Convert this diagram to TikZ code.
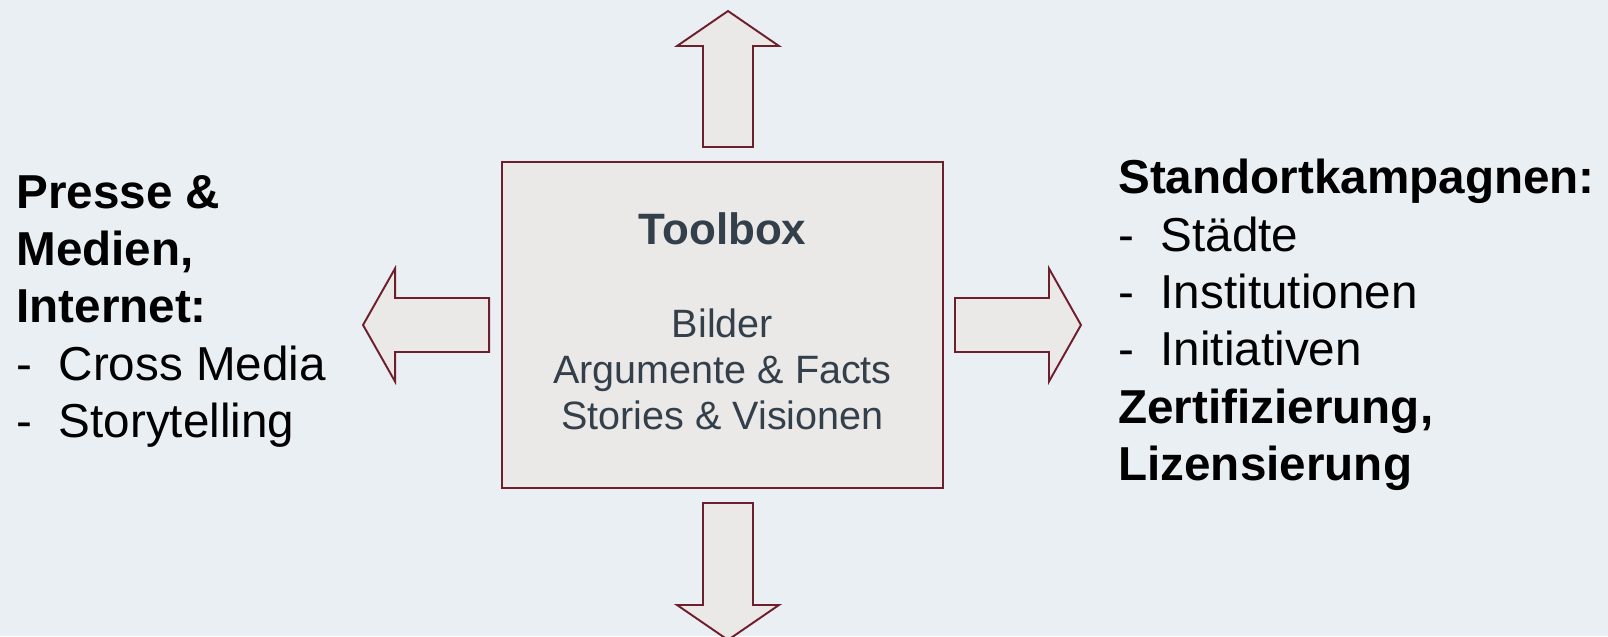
\documentclass[tikz,border=0pt]{standalone}
\usepackage{fontspec}
\setmainfont{Liberation Sans}
\definecolor{tbBack}{HTML}{EAEFF3}
\definecolor{tbFill}{HTML}{EBE9E7}
\definecolor{tbLine}{HTML}{6E1F2C}
\definecolor{tbText}{HTML}{333F4A}
\newcommand{\tbdash}{\makebox[0.89em][l]{-}}
\tikzset{
  toolbox/.style={draw=tbLine, fill=tbFill, line width=1.1pt,
              minimum width=8.82cm, minimum height=6.52cm, inner sep=0pt},
  fatarrow/.style={draw=tbLine, fill=tbFill, line width=1.1pt},
  title/.style={font=\fontsize{25}{30}\selectfont\bfseries, text=tbText, inner sep=0pt},
  tools/.style={font=\fontsize{22.5}{26.2}\selectfont, text=tbText, align=center, inner sep=0pt},
  side/.style={font=\fontsize{27.1}{32.6}\selectfont, align=left, inner sep=0pt, anchor=north west},
}

\begin{document}
\begin{tikzpicture}
  \fill[tbBack] (0,0) rectangle (32.16,12.72);
  \useasboundingbox (0,0) rectangle (32.16,12.72);
  % centre box
  \node[toolbox] (box) at (14.45,6.22) {};
  \node[title,anchor=base] (ttl) at (14.45,7.83) {Toolbox};
  \node[tools,anchor=north] (tools) at (14.45,6.56) {Bilder\\ Argumente \& Facts\\ Stories \& Visionen};
  % block arrows
  \draw[fatarrow] ([xshift=-0.39cm,yshift=0.28cm]box.north) -- ++(0,2.02) -- ++(-0.52,0)
        -- ++(1.02,0.70) -- ++(1.02,-0.70) -- ++(-0.52,0) -- ++(0,-2.02) -- cycle;
  \draw[fatarrow] ([xshift=-0.39cm,yshift=-0.28cm]box.south) -- ++(0,-2.04) -- ++(-0.52,0)
        -- ++(1.02,-0.70) -- ++(1.02,0.70) -- ++(-0.52,0) -- ++(0,2.04) -- cycle;
  \draw[fatarrow] ([xshift=-0.24cm,yshift=0.54cm]box.west) -- ++(-1.88,0) -- ++(0,0.59)
        -- ++(-0.64,-1.13) -- ++(0.64,-1.13) -- ++(0,0.59) -- ++(1.88,0) -- cycle;
  \draw[fatarrow] ([xshift=0.22cm,yshift=0.54cm]box.east) -- ++(1.88,0) -- ++(0,0.59)
        -- ++(0.64,-1.13) -- ++(-0.64,-1.13) -- ++(0,0.59) -- ++(-1.88,0) -- cycle;
  % side texts
  \node[side] (media) at (0.32,9.22) {\textbf{Presse \&}\\ \textbf{Medien,}\\ \textbf{Internet:}\\
        \tbdash Cross Media\\ \tbdash Storytelling};
  \node[side] (sites) at (22.36,9.54) {\textbf{Standortkampagnen:}\\ \tbdash Städte\\
        \tbdash Institutionen\\ \tbdash Initiativen\\ \textbf{Zertifizierung,}\\ \textbf{Lizensierung}};
\end{tikzpicture}
\end{document}
